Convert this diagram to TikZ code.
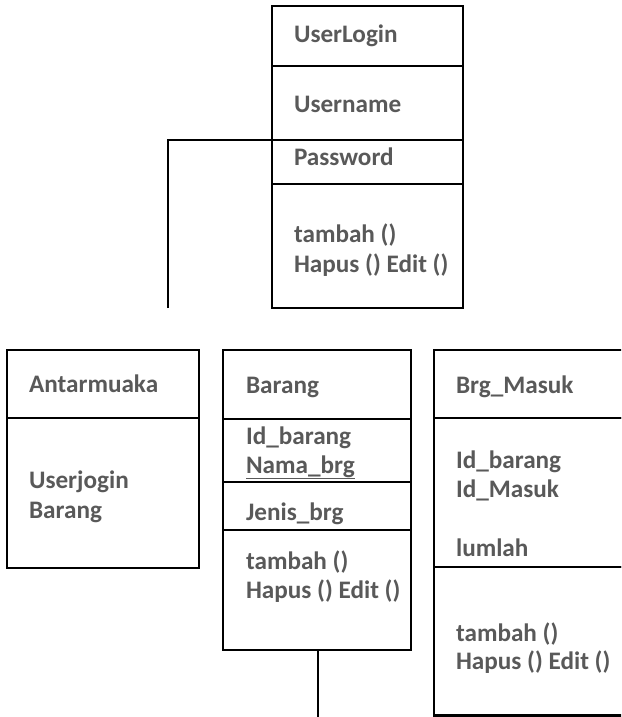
\documentclass[tikz,border=0pt]{standalone}
\usepackage{fontspec}
\setmainfont{Carlito}
\definecolor{txtgray}{HTML}{595959}
\begin{document}
\begin{tikzpicture}[x=1pt,y=-1pt,
  line width=2.1pt,
  part/.style={draw=black, rectangle, anchor=north west, inner sep=0pt, outer sep=0pt},
  lbl/.style={anchor=base west, inner sep=0pt, text=txtgray,
    font=\bfseries\fontsize{25.2}{30}\selectfont},
  link/.style={draw=black, line width=2.1pt}]
\useasboundingbox (0,0) rectangle (621,717);
\clip (0,0) rectangle (621,717);

% UserLogin class
\node[part, minimum width=191pt, minimum height=60pt]  (ulhead) at (272,6) {};
\node[part, minimum width=191pt, minimum height=74pt]  (ulname) at (272,66) {};
\node[part, minimum width=191pt, minimum height=44pt]  (ulpass) at (272,140) {};
\node[part, minimum width=191pt, minimum height=124pt] (ulops)  at (272,184) {};
\node[lbl] (t1)  at (293,43)  {UserLogin};
\node[lbl] (t2)  at (293,112) {Username};
\node[lbl] (t3)  at (293,165) {Password};
\node[lbl] (t4a) at (293,242) {tambah ()};
\node[lbl] (t4b) at (293,272) {Hapus () Edit ()};

% Antarmuaka class
\node[part, minimum width=192pt, minimum height=68pt]  (uihead) at (7,350) {};
\node[part, minimum width=192pt, minimum height=150pt] (uibody) at (7,418) {};
\node[lbl] (t5)  at (28,392) {Antarmuaka};
\node[lbl] (t6a) at (28,488) {Userjogin};
\node[lbl] (t6b) at (28,518) {Barang};

% Barang class
\node[part, minimum width=188pt, minimum height=69pt]  (brhead) at (223,350) {};
\node[part, minimum width=188pt, minimum height=63pt]  (brid)   at (223,419) {};
\node[part, minimum width=188pt, minimum height=48pt]  (brjen)  at (223,482) {};
\node[part, minimum width=188pt, minimum height=120pt] (brops)  at (223,530) {};
\node[lbl] (t7)   at (245,393) {Barang};
\node[lbl] (t8)   at (245,444) {Id\_barang};
\node[lbl] (t9)   at (245,473) {\underline{Nama\_brg}};
\node[lbl] (t10)  at (245,520) {Jenis\_brg};
\node[lbl] (t11a) at (245,569) {tambah ()};
\node[lbl] (t11b) at (245,598) {Hapus () Edit ()};

% Brg_Masuk class (runs past the right edge)
\node[part, minimum width=220pt, minimum height=68pt]  (bmhead) at (434,350) {};
\node[part, minimum width=220pt, minimum height=149pt] (bmattr) at (434,418) {};
\node[part, minimum width=220pt, minimum height=148.5pt] (bmops) at (434,567) {};
\node[lbl] (t12)  at (455,393) {Brg\_Masuk};
\node[lbl] (t13a) at (455,468) {Id\_barang};
\node[lbl] (t13b) at (455,497) {Id\_Masuk};
\node[lbl] (t14)  at (455,556) {lumlah};
\node[lbl] (t15a) at (455,641) {tambah ()};
\node[lbl] (t15b) at (455,669) {Hapus () Edit ()};

% connectors
\coordinate (lend) at (168,308);
\coordinate (bend) at (318,720);
\draw[link] (lend) |- (ulpass.north west);
\draw[link] (brops.south -| bend) -- (bend);
\end{tikzpicture}
\end{document}
